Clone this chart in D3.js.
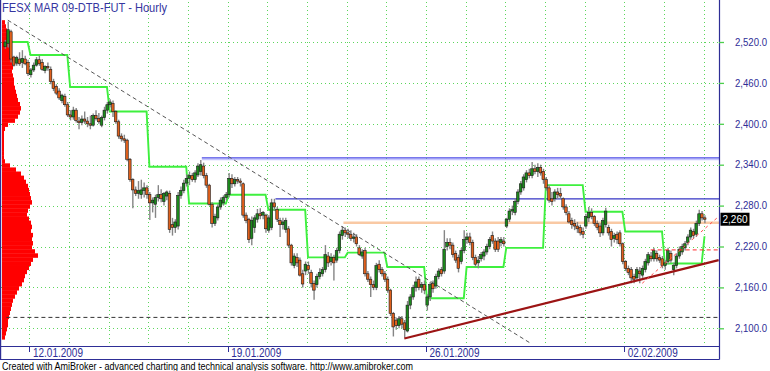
<!DOCTYPE html>
<html>
<head>
<meta charset="utf-8">
<script src="https://cdn.jsdelivr.net/npm/d3@7"></script>
<style>
  html, body { margin: 0; padding: 0; background: #fff; }
  svg { display: block; font-family: "Liberation Sans", Arial, sans-serif; }
</style>
</head>
<body>
<svg id="chart" width="770" height="371"></svg>
<script>
const chartTitle = 'FESX MAR 09-DTB-FUT - Hourly';
const footerText = 'Created with AmiBroker - advanced charting and technical analysis software. http://www.amibroker.com';

const priceTicks = [2100, 2160, 2220, 2280, 2340, 2400, 2460, 2520];
// first bar of every session (hourly bars, 14 per day)
const dayStarts = [9, 23, 37, 51, 65, 79, 93, 107, 121, 135, 149, 163, 177, 191, 205, 219, 233, 247];
const dateLabels = [[9, '12.01.2009'], [79, '19.01.2009'], [149, '26.01.2009'], [219, '02.02.2009']];

// hourly bars [open, high, low, close]
const bars = [
  // 09.01
  [2513,2523,2510,2520],[2518,2550,2512,2538],[2535,2538,2490,2495],[2498,2500,2484,2486],[2489,2500,2485,2497],
  [2495,2505,2485,2488],[2490,2508,2482,2496],[2495,2500,2486,2488],[2490,2494,2470,2474],
  // 12.01
  [2472,2482,2468,2479],[2479,2490,2476,2486],[2486,2498,2484,2494],[2494,2500,2485,2488],[2490,2495,2478,2480],
  [2478,2486,2474,2484],[2484,2490,2478,2482],[2480,2484,2458,2462],[2462,2466,2448,2452],[2455,2458,2442,2445],
  [2448,2452,2435,2438],[2434,2444,2430,2442],[2440,2444,2425,2428],[2428,2432,2410,2413],
  // 13.01
  [2413,2420,2405,2410],[2410,2425,2406,2420],[2420,2423,2402,2405],[2404,2410,2392,2402],[2402,2412,2398,2407],
  [2407,2418,2400,2404],[2404,2410,2395,2400],[2400,2412,2392,2398],[2398,2415,2396,2412],[2412,2420,2405,2408],
  [2408,2416,2400,2403],[2398,2412,2395,2409],[2409,2425,2405,2420],[2420,2432,2415,2428],
  // 14.01
  [2428,2436,2424,2432],[2430,2434,2410,2418],[2418,2420,2400,2403],[2403,2406,2378,2382],[2382,2386,2374,2378],
  [2378,2384,2372,2376],[2376,2378,2345,2348],[2348,2350,2315,2318],[2318,2320,2276,2303],[2303,2308,2294,2298],
  [2298,2316,2290,2302],[2296,2318,2290,2303],[2302,2314,2292,2306],[2306,2310,2290,2296],
  // 15.01
  [2296,2300,2259,2284],[2284,2292,2270,2288],[2282,2296,2262,2292],[2292,2310,2286,2296],[2296,2304,2285,2290],
  [2286,2300,2280,2298],[2294,2302,2288,2300],[2298,2302,2240,2245],[2252,2262,2236,2248],[2248,2260,2240,2256],
  [2250,2300,2245,2295],[2295,2308,2290,2302],[2302,2318,2298,2313],[2313,2326,2308,2320],
  // 16.01
  [2320,2330,2310,2324],[2324,2328,2315,2318],[2318,2332,2314,2328],[2325,2342,2322,2338],[2330,2347,2324,2340],
  [2338,2343,2320,2324],[2324,2328,2306,2310],[2310,2312,2280,2282],[2282,2285,2248,2254],[2254,2268,2250,2264],
  [2262,2282,2258,2278],[2278,2292,2274,2288],[2284,2295,2280,2292],[2292,2300,2288,2296],
  // 19.01
  [2296,2328,2292,2320],[2320,2326,2306,2312],[2312,2322,2308,2318],[2318,2322,2312,2316],[2316,2320,2308,2314],
  [2312,2314,2262,2266],[2266,2270,2254,2258],[2260,2262,2225,2230],[2232,2264,2222,2258],[2248,2266,2240,2262],
  [2260,2275,2255,2268],[2268,2276,2260,2265],[2266,2272,2260,2270],[2266,2268,2240,2246],
  // 20.01
  [2244,2266,2240,2262],[2248,2290,2244,2284],[2284,2290,2272,2278],[2274,2278,2256,2260],[2258,2262,2234,2252],
  [2252,2262,2245,2256],[2245,2262,2240,2258],[2246,2250,2218,2222],[2222,2224,2192,2196],[2192,2210,2188,2206],
  [2204,2210,2190,2196],[2200,2204,2176,2178],[2180,2186,2160,2165],[2184,2198,2178,2194],
  // 21.01
  [2192,2198,2180,2186],[2182,2186,2160,2166],[2166,2170,2142,2156],[2164,2180,2160,2176],[2176,2188,2172,2182],
  [2180,2190,2176,2186],[2186,2222,2182,2208],[2206,2212,2190,2196],[2198,2210,2192,2204],[2204,2208,2170,2196],
  [2200,2218,2196,2214],[2214,2242,2210,2238],[2236,2250,2230,2244],[2244,2248,2234,2240],
  // 22.01
  [2240,2246,2232,2238],[2238,2244,2228,2232],[2232,2240,2226,2234],[2234,2238,2220,2224],[2218,2222,2206,2208],
  [2206,2216,2202,2212],[2214,2218,2176,2180],[2180,2184,2168,2172],[2172,2176,2146,2164],[2164,2170,2156,2160],
  [2160,2196,2156,2192],[2194,2200,2182,2186],[2186,2190,2176,2180],[2180,2184,2168,2172],
  // 23.01
  [2172,2176,2152,2156],[2156,2158,2118,2122],[2122,2124,2088,2102],[2112,2116,2098,2104],[2104,2118,2100,2114],
  [2114,2118,2100,2106],[2108,2112,2086,2098],[2096,2140,2094,2134],[2134,2150,2128,2146],[2146,2164,2142,2160],
  [2160,2176,2154,2168],[2172,2176,2156,2160],[2160,2168,2152,2164],[2164,2170,2150,2156],
  // 26.01
  [2134,2150,2126,2146],[2146,2168,2140,2164],[2166,2170,2152,2158],[2162,2180,2158,2176],[2176,2188,2172,2184],
  [2186,2190,2176,2180],[2184,2244,2180,2216],[2220,2232,2214,2226],[2226,2232,2216,2222],[2222,2226,2204,2208],
  [2210,2214,2196,2200],[2204,2208,2182,2188],[2198,2218,2194,2214],[2214,2244,2210,2230],
  // 27.01
  [2230,2240,2224,2234],[2234,2240,2222,2226],[2226,2230,2200,2204],[2204,2208,2190,2194],[2196,2206,2188,2200],
  [2202,2212,2198,2208],[2206,2216,2200,2212],[2212,2224,2208,2220],[2220,2234,2216,2230],[2236,2242,2224,2228],
  [2228,2232,2212,2216],[2228,2234,2212,2216],[2226,2234,2220,2230],[2228,2234,2220,2224],
  // 28.01
  [2250,2262,2247,2260],[2260,2276,2256,2272],[2272,2280,2266,2274],[2270,2290,2266,2286],[2286,2304,2282,2300],
  [2300,2316,2296,2312],[2306,2326,2302,2322],[2318,2332,2314,2328],[2328,2334,2320,2324],[2324,2344,2320,2334],
  [2334,2340,2326,2330],[2330,2342,2322,2336],[2336,2340,2324,2328],[2330,2334,2312,2318],
  // 29.01
  [2318,2322,2302,2306],[2306,2310,2284,2288],[2290,2300,2280,2286],[2290,2304,2286,2300],[2300,2306,2290,2296],
  [2298,2306,2290,2294],[2290,2292,2274,2278],[2278,2282,2266,2270],[2268,2272,2254,2256],[2258,2262,2246,2252],
  [2254,2260,2244,2250],[2250,2256,2240,2246],[2248,2252,2236,2240],[2242,2248,2232,2238],
  // 30.01
  [2250,2268,2246,2264],[2262,2278,2256,2270],[2270,2276,2260,2264],[2264,2266,2250,2254],[2254,2258,2244,2248],
  [2250,2254,2234,2240],[2240,2262,2236,2258],[2252,2277,2248,2272],[2248,2252,2236,2240],[2242,2246,2220,2230],
  [2232,2240,2226,2236],[2238,2242,2224,2230],[2240,2244,2220,2224],[2224,2226,2194,2198],
  // 02.02
  [2198,2200,2184,2188],[2188,2192,2178,2182],[2186,2190,2166,2174],[2176,2180,2166,2172],[2174,2190,2170,2186],
  [2184,2190,2166,2180],[2178,2192,2174,2188],[2186,2202,2182,2198],[2196,2212,2192,2208],[2206,2212,2198,2202],
  [2202,2218,2198,2214],[2210,2214,2198,2202],[2204,2208,2196,2200],[2202,2206,2188,2192],
  // 03.02
  [2192,2200,2186,2196],[2198,2218,2194,2214],[2210,2214,2196,2200],[2186,2196,2178,2192],[2192,2210,2188,2206],
  [2206,2220,2202,2216],[2212,2224,2208,2220],[2218,2228,2214,2224],[2226,2238,2222,2234],[2234,2248,2230,2244],
  [2242,2246,2232,2236],[2238,2258,2234,2254],[2254,2274,2250,2268],[2268,2272,2258,2262],
  // 04.02
  [2262,2266,2254,2260]
];

// daily level line: [first bar, last bar, level]
const dailyLevel = [
  [1, 8, 2520], [9, 22, 2501], [23, 36, 2454], [37, 50, 2418], [51, 64, 2337], [65, 78, 2283],
  [79, 92, 2296], [93, 106, 2274], [107, 120, 2204], [121, 134, 2211], [135, 148, 2190],
  [149, 162, 2144], [163, 176, 2190], [177, 190, 2218], [191, 204, 2310], [205, 218, 2271],
  [219, 232, 2242], [233, 246, 2195], [247, 247, 2235]
];

// volume at price, 6-point buckets from 2552 downwards
const profileTop = 2552;
const profileStep = 6;
const profileVolume = [
  3, 4, 5, 5, 6, 8, 9, 10, 10, 11, 10, 11, 10, 11, 12, 12, 13, 14, 15, 16,
  18, 19, 18, 16, 13, 6, 3, 2, 2, 2, 2, 2, 2, 2, 3, 8, 14, 19, 22, 24,
  26, 27, 28, 29, 30, 28, 26, 25, 27, 29, 30, 29, 31, 30, 31, 30, 33, 36, 31, 29,
  27, 25, 23, 22, 20, 17, 15, 13, 11, 10, 9, 8, 7, 6, 6, 5, 4, 3
];

// horizontal studies: [first bar, level]
const upperResistance = [69.5, 2350];
const lowerResistance = [95.5, 2290];
const neckLine = [119.5, 2255];
const supportLevel = [0.5, 2116];
const shortLevel = [228, 2215];
// trend lines: two anchors [bar, price]
const downTrend = [[1, 2552], [186, 2077]];
const upTrend = [[141, 2085], [252, 2200]];
const channelLine = [[225, 2166], [252, 2264]];

const lastPrice = bars[bars.length - 1][3];

const navy = '#2e2e96';
const plot = { left: 1, right: 719, top: 0, bottom: 346 };

const svg = d3.select('#chart');
const x = d3.scaleLinear().domain([0, 247]).range([5, 704.5]);
const y = d3.scaleLinear().domain([2100, 2520]).range([328.3, 42]);
const volWidth = d3.scaleLinear().domain([0, 40]).range([0, 40]);

svg.append('defs').append('clipPath').attr('id', 'plotClip')
    .append('rect')
    .attr('x', plot.left).attr('y', plot.top)
    .attr('width', plot.right - plot.left).attr('height', plot.bottom - plot.top);

const g = svg.append('g').attr('clip-path', 'url(#plotClip)');

// grid
g.selectAll('.hgrid').data(priceTicks).join('line')
    .attr('x1', plot.left).attr('x2', plot.right)
    .attr('y1', d => Math.round(y(d)) + 0.5).attr('y2', d => Math.round(y(d)) + 0.5)
    .style('stroke', '#5cd65c').style('stroke-dasharray', '1,3');
g.selectAll('.vgrid').data(dayStarts).join('line')
    .attr('x1', d => Math.round(x(d)) - 0.5).attr('x2', d => Math.round(x(d)) - 0.5)
    .attr('y1', plot.top + 2).attr('y2', plot.bottom)
    .style('stroke', '#5cd65c').style('stroke-dasharray', '1,3');

// volume profile
g.selectAll('.vap').data(profileVolume).join('rect')
    .attr('x', 2)
    .attr('y', (d, k) => y(profileTop - k * profileStep))
    .attr('width', d => volWidth(d))
    .attr('height', (d, k) => y(profileTop - (k + 1) * profileStep) - y(profileTop - k * profileStep) + 0.4)
    .style('fill', '#ff0000');

function hLine(level, color, width, dash) {
    const line = g.append('line')
        .attr('x1', x(level[0])).attr('x2', plot.right)
        .attr('y1', y(level[1])).attr('y2', y(level[1]))
        .style('stroke', color).style('stroke-width', width);
    if (dash) line.style('stroke-dasharray', dash);
    return line;
}

function trendLine(pts, color, width, dash) {
    const line = g.append('line')
        .attr('x1', x(pts[0][0])).attr('y1', y(pts[0][1]))
        .attr('x2', x(pts[1][0])).attr('y2', y(pts[1][1]))
        .style('stroke', color).style('stroke-width', width);
    if (dash) line.style('stroke-dasharray', dash);
    return line;
}

hLine(neckLine, '#f9c9a4', 2.5);
hLine(upperResistance, '#c6c6ff', 1.6).attr('transform', 'translate(0,1.6)');
hLine(upperResistance, '#4b4be6', 1.3);
hLine(lowerResistance, '#3535c4', 1.2);
hLine(supportLevel, '#333', 1, '4,3');

// daily level step line
const stepPoints = dailyLevel.flatMap(d => [[d[0], d[2]], [d[1], d[2]]]);
g.append('path')
    .datum(stepPoints)
    .attr('d', d3.line().x(d => x(d[0])).y(d => y(d[1])))
    .style('fill', 'none')
    .style('stroke', '#3ef03e')
    .style('stroke-width', 1.9);

// candles
const candle = g.selectAll('.candle').data(bars).join('g').attr('class', 'candle');
candle.append('line')
    .attr('x1', (d, i) => x(i) + 0.4).attr('x2', (d, i) => x(i) + 0.4)
    .attr('y1', d => y(d[1])).attr('y2', d => y(d[2]))
    .style('stroke', '#858585').style('stroke-width', 1.4);
candle.append('rect')
    .attr('x', (d, i) => x(i) - 1.1)
    .attr('width', 2.6)
    .attr('y', d => y(Math.max(d[0], d[3])))
    .attr('height', d => Math.max(1, Math.abs(y(d[0]) - y(d[3]))))
    .style('fill', d => d[3] >= d[0] ? '#1c8a1c' : '#e0601c')
    .style('stroke', '#1a1a1a').style('stroke-width', 0.6);

trendLine(downTrend, '#555', 1, '4,3');
trendLine(upTrend, '#9c1414', 2.2);
trendLine(channelLine, '#ff5050', 1, '3,3');
hLine(shortLevel, '#ff2a2a', 1, '4,3');

// frame
const frame = svg.append('g').style('stroke', navy).style('stroke-width', 1.2);
frame.append('line').attr('x1', 0.6).attr('x2', 0.6).attr('y1', 0).attr('y2', 359.5);
frame.append('line').attr('x1', 719.5).attr('x2', 719.5).attr('y1', 0).attr('y2', 359.5);
frame.append('line').attr('x1', 0).attr('x2', 719.5).attr('y1', 346.5).attr('y2', 346.5);
frame.append('line').attr('x1', 0).attr('x2', 719.5).attr('y1', 359.5).attr('y2', 359.5);

// date axis
const dates = svg.append('g');
dates.selectAll('line').data(dateLabels).join('line')
    .attr('x1', d => Math.round(x(d[0])) - 0.5).attr('x2', d => Math.round(x(d[0])) - 0.5)
    .attr('y1', 347).attr('y2', 352)
    .style('stroke', navy);
dates.selectAll('text').data(dateLabels).join('text')
    .attr('x', d => x(d[0]) + 2.5)
    .attr('y', 357)
    .attr('textLength', 50).attr('lengthAdjust', 'spacingAndGlyphs')
    .style('font-size', '12px').style('fill', navy)
    .text(d => d[1]);

// price axis
const yAxis = svg.append('g')
    .attr('transform', `translate(${plot.right},0)`)
    .call(d3.axisRight(y).tickValues(priceTicks).tickSize(5).tickPadding(11).tickFormat(d3.format(',.1f')));
yAxis.select('.domain').remove();
yAxis.selectAll('.tick line').style('stroke', '#4ccf4c').style('stroke-width', 1.3);
yAxis.selectAll('.tick text')
    .attr('textLength', 32).attr('lengthAdjust', 'spacingAndGlyphs')
    .style('font-family', '"Liberation Sans", Arial, sans-serif')
    .style('font-size', '10px').style('fill', navy);

// last price marker
const lastY = y(lastPrice);
svg.append('rect')
    .attr('x', 720.5).attr('y', lastY - 6.5)
    .attr('width', 29).attr('height', 13)
    .style('fill', '#000');
svg.append('text')
    .attr('x', 722.5).attr('y', lastY + 4)
    .attr('textLength', 25).attr('lengthAdjust', 'spacingAndGlyphs')
    .style('font-size', '11px').style('fill', '#fff')
    .text(d3.format(',')(lastPrice));

// title and footer
svg.append('text')
    .attr('x', 2).attr('y', 12)
    .attr('textLength', 165).attr('lengthAdjust', 'spacingAndGlyphs')
    .style('font-size', '12px').style('fill', '#3535a0')
    .text(chartTitle);
svg.append('text')
    .attr('x', 2).attr('y', 369.5)
    .attr('textLength', 411).attr('lengthAdjust', 'spacingAndGlyphs')
    .style('font-size', '11px').style('fill', '#000')
    .text(footerText);
</script>
</body>
</html>
